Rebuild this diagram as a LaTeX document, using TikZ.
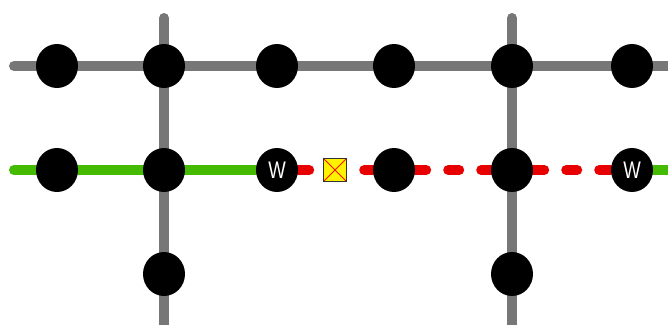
\documentclass[tikz,border=0pt]{standalone}
\usepackage{fontspec}
\setsansfont{Liberation Sans}
\usetikzlibrary{shapes.geometric,positioning,backgrounds}
\definecolor{railgrey}{RGB}{119,119,119}
\definecolor{railgreen}{RGB}{68,187,0}
\definecolor{railred}{RGB}{232,0,0}

\begin{document}
\begin{tikzpicture}[
			x=1pt,y=-1pt,
			stop/.style={
				ellipse,
				fill=black,
				minimum width=42pt,
				minimum height=44pt,
				inner sep=0pt
			},
			wstop/.style={
				stop,
				text=white,
				font=\sffamily
			},
			track/.style={railgrey,line width=10pt,line cap=round},
			clear/.style={railgreen,line width=10pt,line cap=round},
			blocked/.style={railred,line width=10pt,line cap=round,dash pattern=on 11pt off 22pt},
			signal/.style={
				draw=black!80,
				line width=1pt,
				fill=yellow,
				minimum size=23pt,
				inner sep=0pt,
				path picture={
					\draw[red!90!orange,line width=0.9pt]
						(path picture bounding box.south west) -- (path picture bounding box.north east)
						(path picture bounding box.north west) -- (path picture bounding box.south east);
				}
			}
			]
			\useasboundingbox (0,0) rectangle (668,324);

			% upper line
			\node[stop] (a0) at (57,66) {};
			\node[stop] (a1) at (164,66) {};
			\node[stop] (a2) at (277,66) {};
			\node[stop] (a3) at (394,66) {};
			\node[stop] (a4) at (512,66) {};
			\node[stop] (a5) at (632,66) {};

			% lower line with the two W stops
			\node[stop] (b0) at (57,170) {};
			\node[stop] (b1) at (164,170) {};
			\node[wstop] (w1) at (277,170) {\resizebox{17.5pt}{16.5pt}{W}};
			\node[stop] (b3) at (394,170) {};
			\node[stop] (b4) at (512,170) {};
			\node[wstop] (w2) at (632,170) {\resizebox{17.5pt}{16.5pt}{W}};

			% branch stops
			\node[stop] (c1) at (164,274) {};
			\node[stop] (c4) at (512,274) {};

			% free ends of the lines
			\coordinate (aw) at (14,66);
			\coordinate (ae) at (680,66);
			\coordinate (bw) at (14,170);
			\coordinate (be) at (680,170);
			\coordinate (n1) at (164,18);
			\coordinate (s1) at (164,340);
			\coordinate (n4) at (512,18);
			\coordinate (s4) at (512,340);

			\begin{scope}[on background layer]
				\draw[track] (aw) -- (ae);
				\draw[track] (n1) -- (s1);
				\draw[track] (n4) -- (s4);
				\draw[clear] (bw) -- (w1);
				\draw[clear] (w2) -- (be);
				\draw[blocked] (w1) -- (b3);
				\draw[blocked] (b3) -- (b4);
				\draw[blocked] (b4) -- (w2);
			\end{scope}

			% signal box on the blocked section
			\node[signal] (sig) at (335,170) {};
		\end{tikzpicture}
\end{document}
